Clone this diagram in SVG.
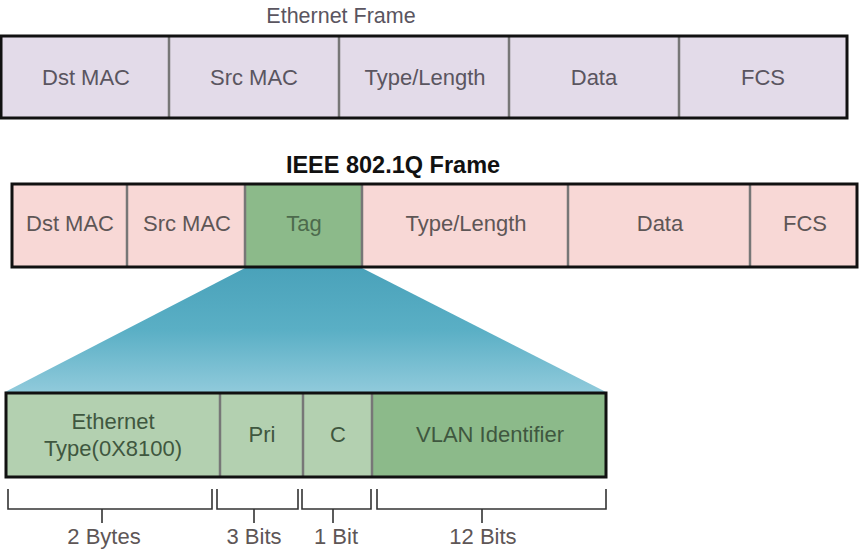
<svg xmlns="http://www.w3.org/2000/svg" width="864" height="550" viewBox="0 0 864 550">
<defs>
<linearGradient id="fan" x1="0" y1="0" x2="0" y2="1">
<stop offset="0" stop-color="#4aa2ba"/>
<stop offset="0.5" stop-color="#5aafc5"/>
<stop offset="1" stop-color="#90cadb"/>
</linearGradient>
<style>
text{font-family:"Liberation Sans",Arial,sans-serif;font-size:22px;text-anchor:middle}
.t1{fill:#5a5560}
.t2{fill:#5e5656}
.t3{fill:#3f573f}
.out{fill:none;stroke:#111;stroke-width:3}
.div{stroke:#777;stroke-width:2.5;fill:none}
.lav{fill:#e3dbe9}
.pink{fill:#f8d8d6}
.dg{fill:#8cba8a}
.lg{fill:#b3d0b0}
.br{fill:none;stroke:#333;stroke-width:1.6}
</style>
</defs>

<text x="341" y="23" class="t1" style="font-size:21.5px">Ethernet Frame</text>
<text x="393" y="173" style="font-weight:bold;font-size:23.5px;fill:#111">IEEE 802.1Q Frame</text>

<g id="fan-shape">
<polygon points="245,268 362,268 606,392 5,392" fill="url(#fan)"/>
</g>

<g id="eth-frame">
<rect x="1" y="36" width="846" height="82" class="lav"/>
<g id="eth-dst"><text x="86" y="85" class="t1">Dst MAC</text></g>
<g id="eth-src"><text x="254" y="85" class="t1">Src MAC</text></g>
<g id="eth-type"><text x="425" y="85" class="t1">Type/Length</text></g>
<g id="eth-data"><text x="594" y="85" class="t1">Data</text></g>
<g id="eth-fcs"><text x="763" y="85" class="t1">FCS</text></g>
<path d="M169,36V118M339,36V118M509,36V118M679,36V118" class="div"/>
<rect x="1" y="36" width="846" height="82" class="out"/>
</g>

<g id="q-frame">
<rect x="12" y="184" width="845" height="83" class="pink"/>
<rect x="245" y="184" width="117" height="83" class="dg"/>
<g id="q-dst"><text x="70" y="231" class="t2">Dst MAC</text></g>
<g id="q-src"><text x="187" y="231" class="t2">Src MAC</text></g>
<g id="q-tag"><text x="304" y="231" style="fill:#4d6a4d">Tag</text></g>
<g id="q-type"><text x="466" y="231" class="t2">Type/Length</text></g>
<g id="q-data"><text x="660" y="231" class="t2">Data</text></g>
<g id="q-fcs"><text x="805" y="231" class="t2">FCS</text></g>
<path d="M127,184V267M245,184V267M362,184V267M568,184V267M750,184V267" class="div"/>
<rect x="12" y="184" width="845" height="83" class="out"/>
</g>

<g id="tag-frame">
<rect x="6" y="393" width="600" height="84" class="lg"/>
<rect x="372" y="393" width="234" height="84" class="dg"/>
<g id="tag-etype"><text x="113" y="429" class="t3">Ethernet</text><text x="113" y="456" class="t3">Type(0X8100)</text></g>
<g id="tag-pri"><text x="262" y="442" class="t3">Pri</text></g>
<g id="tag-c"><text x="338" y="442" class="t3">C</text></g>
<g id="tag-vlan"><text x="490" y="442" class="t3">VLAN Identifier</text></g>
<path d="M220,393V477M303,393V477M372,393V477" class="div"/>
<rect x="6" y="393" width="600" height="84" class="out"/>
</g>

<g id="brackets">
<path d="M8,489V509H212V489M102,509V523" class="br"/>
<path d="M217,489V509H298V489M254,509V523" class="br"/>
<path d="M302,489V509H371V489M333,509V523" class="br"/>
<path d="M377,489V509H606V489M482,509V523" class="br"/>
</g>
<g id="sizes">
<text x="104" y="544" class="t2">2 Bytes</text>
<text x="254" y="544" class="t2">3 Bits</text>
<text x="336" y="544" class="t2">1 Bit</text>
<text x="483" y="544" class="t2">12 Bits</text>
</g>
</svg>
